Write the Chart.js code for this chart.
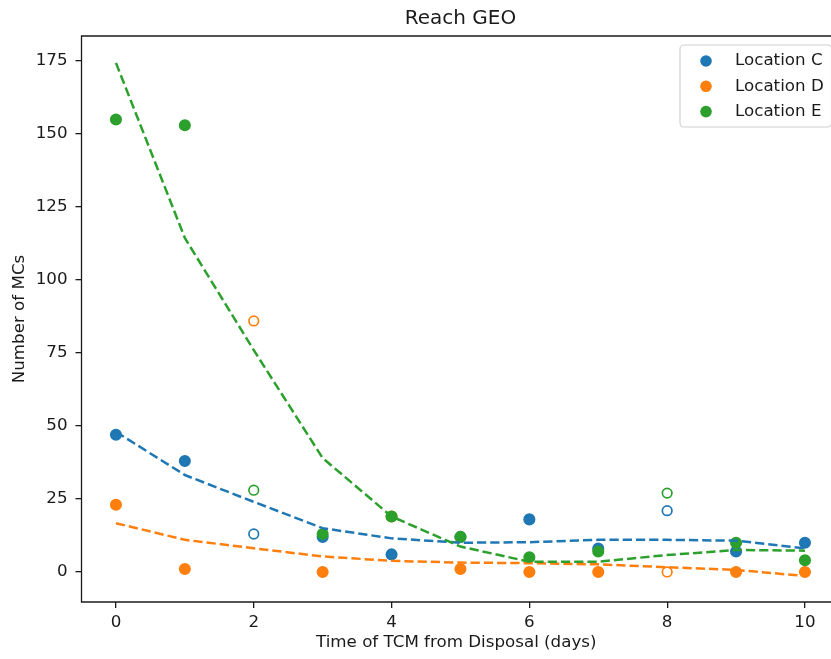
<!DOCTYPE html>
<html>
<head>
<meta charset="utf-8">
<script src="https://cdn.jsdelivr.net/npm/chart.js@4/dist/chart.umd.min.js"></script>
<style>
  html, body { margin: 0; padding: 0; background: #fff; overflow: hidden; }
  #geoChart { display: block; width: 831px; height: 659px; }
</style>
</head>
<body>
<canvas id="geoChart" width="831" height="659"></canvas>
<script>
// ----------------- DATA -----------------
const chartTitle = "Reach GEO";
const locations = ["Location C", "Location D", "Location E"];
const colors = ["#1f77b4", "#ff7f0e", "#2ca02c"];

const xTicks = [0, 2, 4, 6, 8, 10];
const yTicks = [0, 25, 50, 75, 100, 125, 150, 175];

// measured counts (filled markers)
const cDays = [0, 1, 3, 4, 5, 6, 7, 9, 10];
const cCounts = [47, 38, 12, 6, 12, 18, 8, 7, 10];
const dDays = [0, 1, 3, 4, 5, 6, 7, 9, 10];
const dCounts = [23, 1, 0, 19, 1, 0, 0, 0, 0];
const eDays = [0, 1, 3, 4, 5, 6, 7, 9, 10];
const eCounts = [155, 153, 13, 19, 12, 5, 7, 10, 4];

// excluded counts (open markers)
const openDays = [2, 8];
const cOpen = [13, 21];
const dOpen = [86, 0];
const eOpen = [28, 27];

// fitted trend (dashed lines)
const fitDays = [0, 1, 2, 3, 4, 5, 6, 7, 8, 9, 10];
const cFit = [48, 33.2, 24, 15, 11.5, 10, 10.2, 11, 11, 10.7, 8.1];
const dFit = [16.7, 11, 8.1, 5.3, 3.8, 3.2, 3, 2.6, 1.6, 0.7, -1.4];
const eFit = [174.4, 114.4, 76, 39, 19, 8.7, 3.5, 3.5, 5.8, 7.5, 7.3];

// ----------------- HELPERS -----------------
const toPoints = (xs, ys) => xs.map((x, i) => ({ x: x, y: ys[i] }));

function filledSet(i, xs, ys) {
    return {
        label: locations[i],
        data: toPoints(xs, ys),
        backgroundColor: colors[i],
        borderColor: colors[i],
        borderWidth: 1.7,
        pointRadius: 5.2,
        showLine: false,
        order: 20 - i
    };
}

function openSet(i, ys) {
    return {
        label: locations[i] + " (open)",
        data: toPoints(openDays, ys),
        backgroundColor: "rgba(0,0,0,0)",
        borderColor: colors[i],
        borderWidth: 1.7,
        pointRadius: 4.8,
        showLine: false,
        order: 10 - i
    };
}

function fitSet(i, ys) {
    return {
        label: locations[i] + " fit",
        data: toPoints(fitDays, ys),
        borderColor: colors[i],
        borderWidth: 2.5,
        borderDash: [9.25, 4],
        pointRadius: 0,
        showLine: true,
        fill: false,
        tension: 0,
        order: 5 - i
    };
}

const FONT = "'DejaVu Sans', sans-serif";
const INK = "#1a1a1a";
// the figure is cropped: the axes run past the right edge of the picture
const PLOT_RIGHT = 839.5;

// title, frame and legend drawn like matplotlib
const mplDecor = {
    id: "mplDecor",
    afterDatasetsDraw(chart) {
        const { ctx, chartArea: a } = chart;
        ctx.save();
        // frame (right spine lies outside the picture)
        ctx.strokeStyle = INK;
        ctx.lineWidth = 1.3;
        ctx.beginPath();
        ctx.moveTo(a.right + 5, a.top);
        ctx.lineTo(a.left, a.top);
        ctx.lineTo(a.left, a.bottom);
        ctx.lineTo(a.right + 5, a.bottom);
        ctx.stroke();
        // title
        ctx.fillStyle = INK;
        ctx.font = "20px " + FONT;
        ctx.textAlign = "center";
        ctx.textBaseline = "middle";
        ctx.fillText(chartTitle, (a.left + PLOT_RIGHT) / 2, 19);
        // legend box
        const bx = 680, by = 45, bw = PLOT_RIGHT - 8 - bx, bh = 82, r = 4;
        ctx.beginPath();
        ctx.moveTo(bx + r, by);
        ctx.arcTo(bx + bw, by, bx + bw, by + bh, r);
        ctx.arcTo(bx + bw, by + bh, bx, by + bh, r);
        ctx.arcTo(bx, by + bh, bx, by, r);
        ctx.arcTo(bx, by, bx + bw, by, r);
        ctx.closePath();
        ctx.fillStyle = "rgba(255,255,255,0.8)";
        ctx.fill();
        ctx.strokeStyle = "#d0d0d0";
        ctx.lineWidth = 1.2;
        ctx.stroke();
        ctx.font = "16.7px " + FONT;
        ctx.textAlign = "left";
        locations.forEach((name, i) => {
            const y = 61 + i * 25.3;
            ctx.beginPath();
            ctx.arc(706, y, 5.8, 0, Math.PI * 2);
            ctx.fillStyle = colors[i];
            ctx.fill();
            ctx.fillStyle = INK;
            ctx.fillText(name, 735, y);
        });
        ctx.restore();
    }
};

// ----------------- CHART SETUP -----------------
const ctx = document.getElementById("geoChart").getContext("2d");

const geoChart = new Chart(ctx, {
    type: "scatter",
    data: {
        datasets: [
            filledSet(0, cDays, cCounts),
            filledSet(1, dDays, dCounts),
            filledSet(2, eDays, eCounts),
            openSet(0, cOpen),
            openSet(1, dOpen),
            openSet(2, eOpen),
            fitSet(0, cFit),
            fitSet(1, dFit),
            fitSet(2, eFit)
        ]
    },
    options: {
        responsive: false,
        maintainAspectRatio: false,
        devicePixelRatio: 1,
        animation: false,
        layout: { autoPadding: false, padding: { top: 36, right: 0, left: 0, bottom: 0 } },
        plugins: {
            legend: { display: false },
            tooltip: { enabled: false },
            title: { display: false }
        },
        scales: {
            x: {
                type: "linear",
                bounds: "data",
                min: -0.5,
                max: 10.378,
                afterBuildTicks: s => { s.ticks = xTicks.map(v => ({ value: v })); },
                afterFit: s => { s.height = 57; s.paddingLeft = 0; s.paddingRight = 0; },
                border: { display: false },
                grid: { drawOnChartArea: false, drawTicks: true, tickLength: 6, color: INK, lineWidth: 1.3 },
                ticks: { color: INK, font: { family: FONT, size: 16.7 }, padding: 5, maxRotation: 0 },
                title: { display: true, text: "Time of TCM from Disposal (days)", color: INK,
                         font: { family: FONT, size: 16.7 }, padding: { top: 0, bottom: 6.4 } }
            },
            y: {
                type: "linear",
                bounds: "data",
                min: -10.3,
                max: 183.6,
                afterBuildTicks: s => { s.ticks = yTicks.map(v => ({ value: v })); },
                afterFit: s => { s.width = 81.5; s.paddingTop = 0; s.paddingBottom = 0; },
                border: { display: false },
                grid: { drawOnChartArea: false, drawTicks: true, tickLength: 6, color: INK, lineWidth: 1.3 },
                ticks: { color: INK, font: { family: FONT, size: 16.7 }, padding: 8 },
                title: { display: true, text: "Number of MCs", color: INK,
                         font: { family: FONT, size: 16.7 }, padding: { top: 9.4, bottom: 0 } }
            }
        }
    },
    plugins: [mplDecor]
});
</script>
</body>
</html>
